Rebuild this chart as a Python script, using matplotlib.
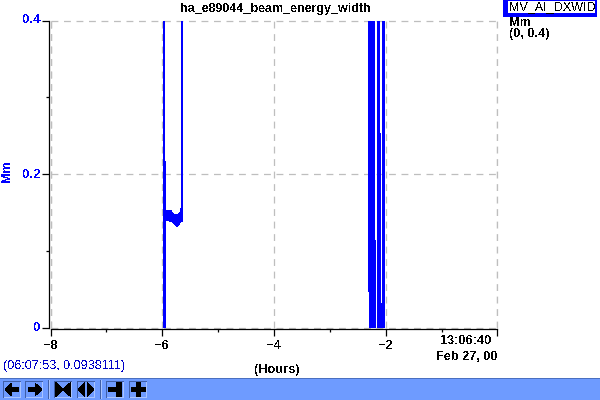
import matplotlib
matplotlib.use("Agg")
import matplotlib.pyplot as plt
from matplotlib.patches import Rectangle, Polygon
from matplotlib.transforms import Affine2D, ScaledTranslation

plt.rcParams['font.family'] = ['Liberation Sans', 'DejaVu Sans']
plt.rcParams['text.antialiased'] = False

TITLE = "ha_e89044_beam_energy_width"
X_LABEL = "(Hours)"
Y_LABEL = "Mm"
SIGNAL = "MV_AI_DXWID"
RANGE_TEXT = "(0, 0.4)"
STATUS = "(06:07:53, 0.0938111)"
END_TIME = "13:06:40"
END_DATE = "Feb 27, 00"

x_major = [-8, -6, -4, -2, 0]
x_major_labels = ["\u22128", "\u22126", "\u22124", "\u22122", ""]
x_minor = [-7, -5, -3, -1]
y_major = [0, 0.2, 0.4]
y_major_labels = ["0", "0.2", "0.4"]
y_minor = [0.1, 0.3]

# Envelope of the trace: time (hours), lower and upper value in each time step
hours_a = [-5.978, -5.960, -5.942, -5.925, -5.907, -5.889, -5.871, -5.853, -5.835, -5.817,
           -5.799, -5.781, -5.763, -5.746, -5.728, -5.710, -5.692, -5.674, -5.656, -5.638]
low_a = [0.000, 0.000, 0.000, 0.139, 0.139, 0.139, 0.138, 0.138, 0.137, 0.136,
         0.135, 0.134, 0.132, 0.131, 0.131, 0.132, 0.134, 0.136, 0.137, 0.138]
high_a = [0.400, 0.400, 0.217, 0.153, 0.153, 0.153, 0.153, 0.153, 0.153, 0.150,
          0.149, 0.148, 0.148, 0.148, 0.148, 0.149, 0.151, 0.156, 0.400, 0.400]
hours_b = [-2.309, -2.291, -2.273, -2.255, -2.237, -2.219, -2.201, -2.183,
           -2.147, -2.130, -2.112, -2.094, -2.076, -2.058, -2.040, -2.022]
low_b = [0.046, 0.000, 0.000, 0.000, 0.000, 0.000, 0.000, 0.000,
         0.000, 0.000, 0.000, 0.000, 0.000, 0.000, 0.000, 0.000]
high_b = [0.400, 0.400, 0.400, 0.400, 0.400, 0.400, 0.400, 0.114,
          0.400, 0.400, 0.400, 0.253, 0.032, 0.400, 0.400, 0.400]

BLUE = "#0000ff"
GRID = "#bebebe"
BAR = "#6e9bff"
BAR_EDGE = "#4a6fc0"
BTN_LIGHT = "#a9c4ff"
BTN_DARK = "#3f5fa8"

W, H = 600, 400
fig = plt.figure(figsize=(W / 100, H / 100), dpi=100, facecolor="white")
px = Affine2D().scale(1, -1).translate(0, H)  # reference pixel coordinates

def ftext(x, y, s, **kw):
    kw.setdefault("family", ['Liberation Sans', 'DejaVu Sans'])
    kw.setdefault("fontweight", "bold")
    kw.setdefault("fontsize", 9.2)
    kw.setdefault("color", "black")
    fig.text(x / W, 1 - y / H, s, **kw)

def rect(x0, y0, x1, y1, color, z=1):
    fig.add_artist(Rectangle((x0, y0), x1 - x0, y1 - y0, transform=px, facecolor=color,
                             edgecolor="none", zorder=z, antialiased=False))

def poly(points, dx, dy):
    fig.add_artist(Polygon([(a + dx, b + dy) for a, b in points], closed=True, transform=px,
                           facecolor="black", edgecolor="none", zorder=4, antialiased=False))

L, R, T, B = 50.5, 497.5, 20.5, 327.5
ax = fig.add_axes([L / W, 1 - B / H, (R - L) / W, (B - T) / H])
ax.set_xlim(-8, 0)
ax.set_ylim(0, 0.4)
ax.patch.set_alpha(0)
for s in ("top", "right"):
    ax.spines[s].set_visible(False)
for s in ("left", "bottom"):
    ax.spines[s].set_position(("outward", 0.8))
    ax.spines[s].set_linewidth(0.9)

ax.set_xticks(x_major)
ax.set_xticklabels(x_major_labels, fontweight="bold", fontsize=9.2)
ax.set_xticks(x_minor, minor=True)
ax.set_yticks(y_major)
ax.set_yticklabels(y_major_labels, fontweight="bold", fontsize=9.5, color=BLUE)
ax.set_yticks(y_minor, minor=True)
ax.tick_params(axis="x", which="major", length=5, width=0.9, pad=3)
ax.tick_params(axis="x", which="minor", length=2, width=0.9)
ax.tick_params(axis="y", which="major", length=5, width=0.9, pad=1)
ax.tick_params(axis="y", which="minor", length=2, width=0.9)
for lab, up in zip(ax.get_yticklabels(), (1, 0, 2)):
    lab.set_transform(lab.get_transform() + ScaledTranslation(0, up / 100, fig.dpi_scale_trans))

ax.grid(True, which="major", color=GRID, linewidth=0.9, linestyle=(0, (5.5, 4.5)), clip_on=False)
ax.axvline(-8, color=GRID, linewidth=0.9, linestyle=(0, (5.5, 4.5)), zorder=1)
ax.axvline(0, color=GRID, linewidth=0.9, linestyle=(0, (5.5, 4.5)), zorder=1)
ax.set_axisbelow(True)

for hours, low, high in ((hours_a, low_a, high_a), (hours_b, low_b, high_b)):
    ax.bar(hours, [h - l for h, l in zip(high, low)], bottom=low, width=8 / 447,
           color=BLUE, linewidth=0, antialiased=False, zorder=3)

ftext(275.5, 9, TITLE, ha="center", va="center", fontsize=9.0)
ftext(7.5, 171, Y_LABEL, ha="center", va="center", rotation=90, color=BLUE, fontsize=9)
ftext(277, 369.5, X_LABEL, ha="center", va="center")
ftext(492, 341.5, END_TIME, ha="right", va="center")
ftext(497, 357, END_DATE, ha="right", va="center")
ftext(3, 366, STATUS, ha="left", va="center", color="#0000c8", fontweight="normal", fontsize=9.05)

# Legend box
rect(503, 0, 597, 17, BLUE)
rect(508, 1, 595, 13, "white", z=2)
ftext(509.5, 7.5, SIGNAL, ha="left", va="center", fontweight="normal", fontsize=9.05, zorder=5)
ftext(509, 23, Y_LABEL, ha="left", va="center")
ftext(509, 34, RANGE_TEXT, ha="left", va="center")

# Toolbar
rect(0, 378, W, H, BAR)
rect(0, 378, W, 379, BAR_EDGE, z=2)
for x0, x1 in [(3, 21), (25, 43), (54, 72), (77, 95), (106, 124), (129, 147)]:
    rect(x0, 381, x1, 398, BTN_DARK, z=2)
    rect(x0 + 1, 382, x1, 398, BTN_LIGHT, z=2)
    rect(x0 + 1, 382, x1 - 1, 397, BAR, z=3)
for x in (48, 100):
    rect(x, 380, x + 1, 399, BTN_DARK, z=2)
    rect(x + 1, 380, x + 2, 399, BTN_LIGHT, z=2)

arrow_left = [(0, 7.5), (7, 1), (7, 5), (14, 5), (14, 10), (7, 10), (7, 14)]
arrow_right = [(14, 7.5), (7, 1), (7, 5), (0, 5), (0, 10), (7, 10), (7, 14)]
poly(arrow_left, 5, 382)
poly(arrow_right, 28, 382)
poly([(0, 0), (8, 7.5), (0, 15)], 55, 382)
poly([(16, 0), (8, 7.5), (16, 15)], 55, 382)
poly([(7, 0), (0, 7.5), (7, 15)], 78, 382)
poly([(9, 0), (16, 7.5), (9, 15)], 78, 382)
poly([(0, 5), (8, 5), (8, 0), (14, 0), (14, 15), (8, 15), (8, 10), (0, 10)], 108, 382)
poly([(5, 0), (10, 0), (10, 5), (15, 5), (15, 10), (10, 10), (10, 15), (5, 15), (5, 10),
      (0, 10), (0, 5), (5, 5)], 131, 382)

fig.savefig("out.png", dpi=100, facecolor="white")
